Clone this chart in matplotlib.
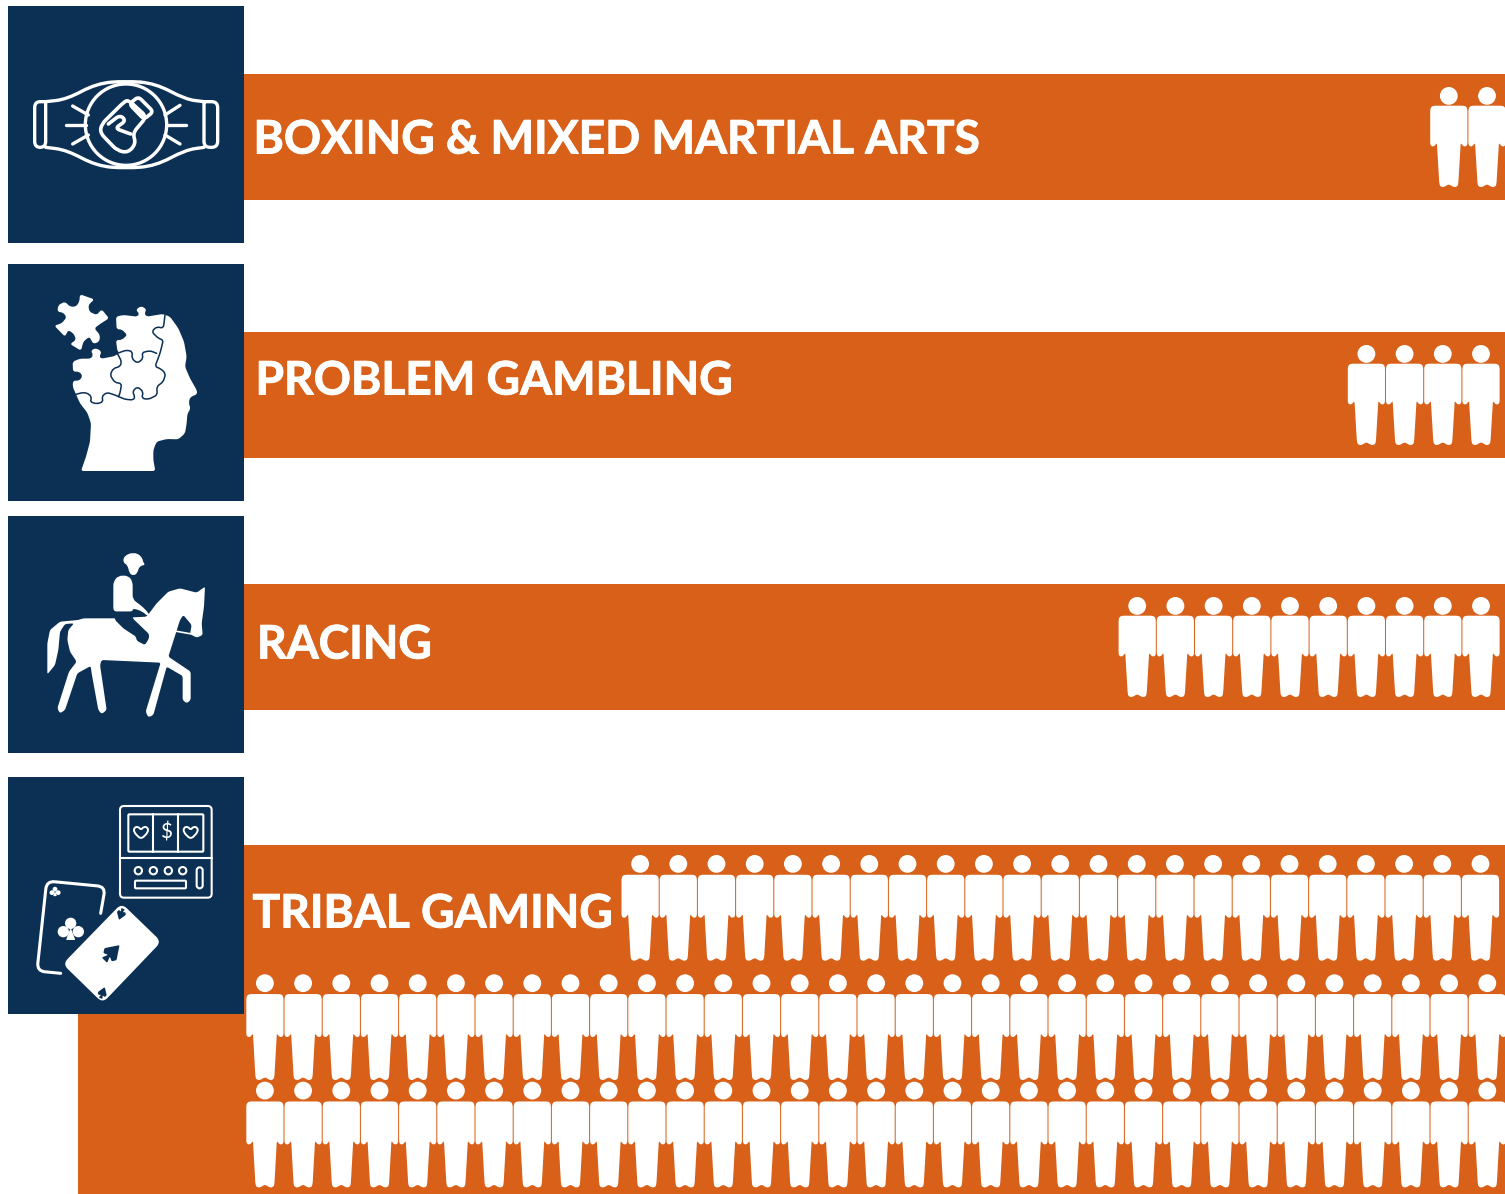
import numpy as np
import matplotlib
matplotlib.use("Agg")
import matplotlib.pyplot as plt
import matplotlib.patheffects as pe
from matplotlib.patches import PathPatch, Rectangle, Circle
from matplotlib.path import Path

ORANGE = "#D86018"
NAVY = "#0B3054"
WHITE = "#FFFFFF"

# chart data
categories = ["BOXING & MIXED MARTIAL ARTS", "PROBLEM GAMBLING", "RACING", "TRIBAL GAMING"]
people_rows = [[2], [4], [10], [23, 33, 33]]

# layout, in pixels of the reference
PITCH = 38.2
icon_tops = [6, 264, 516, 777]
bar_boxes = [(244, 74, 200), (244, 332, 458), (244, 584, 710), (78, 845, 1194)]
label_pos = [(253.5, 140.5), (255.5, 381.5), (257, 645.5), (252.5, 914.5)]
row_layout = [
    [(1487, 87, 100)],
    [(1481, 345, 100)],
    [(1481, 597, 100)],
    [(1480.5, 855, 105.7), (1487.3, 974.3, 105.7), (1487.3, 1081.7, 105.7)],
]

fig = plt.figure(figsize=(15.05, 11.94), dpi=100)
ax = fig.add_axes([0, 0, 1, 1])
ax.set_xlim(0, 1505)
ax.set_ylim(1194, 0)
ax.axis("off")


def round_poly(pts, r=3.0, closed=True):
    # polygon/polyline with quadratic rounded corners
    pts = [np.array(p, dtype=float) for p in pts]
    n = len(pts)
    verts, codes = [], []
    idx = range(n) if closed else range(1, n - 1)
    if not closed:
        verts.append(pts[0])
        codes.append(Path.MOVETO)
    for i in idx:
        p0, p1, p2 = pts[i - 1], pts[i], pts[(i + 1) % n]
        d0 = np.linalg.norm(p0 - p1)
        d2 = np.linalg.norm(p2 - p1)
        a = p1 + (p0 - p1) * min(r, d0 / 2) / max(d0, 1e-6)
        b = p1 + (p2 - p1) * min(r, d2 / 2) / max(d2, 1e-6)
        verts.append(a)
        codes.append(Path.MOVETO if (closed and not verts[:-1]) else Path.LINETO)
        verts += [p1, b]
        codes += [Path.CURVE3, Path.CURVE3]
    if closed:
        verts.append(verts[0])
        codes.append(Path.CLOSEPOLY)
    else:
        verts.append(pts[-1])
        codes.append(Path.LINETO)
    return Path(verts, codes)


def zoomed(pts, oy):
    # icon outlines were traced on 3x crops
    return [(x / 3, oy + y / 3) for x, y in pts]


def fill_shape(pts, oy, r=3.0, color=WHITE, z=5):
    ax.add_patch(PathPatch(round_poly(zoomed(pts, oy), r), fc=color, ec="none", zorder=z))


def stroke_shape(pts, oy, r=3.0, lw=2.4, closed=False, color=WHITE, z=5):
    ax.add_patch(PathPatch(round_poly(zoomed(pts, oy), r, closed), fc="none", ec=color,
                           lw=lw, capstyle="round", joinstyle="round", zorder=z))


def draw_person(cx, top, h):
    scale = h / 100
    s = 18.7 * scale
    a = 57.7 * scale
    r_head = 8.9
    ax.add_patch(Circle((cx, top + r_head), r_head, fc=WHITE, ec="none", zorder=3))
    right = [(14.5, s), (17.5, s + 0.8), (18.6, s + 4), (18.6, a - 1), (18, a + 1), (16, a + 2),
             (14, a + 1), (13, a - 0.6), (11.9, a - 1.4), (9.6, h - 5), (9, h - 1.2), (7, h),
             (5, h), (3, h - 1), (0, h - 2.8)]
    left = [(-x, y) for x, y in reversed(right[:-1])]
    body = [(cx + x, top + y) for x, y in right + left]
    ax.add_patch(PathPatch(round_poly(body, 1.6), fc=WHITE, ec="none", zorder=3))


def belt_icon(oy):
    top = [(137, 305), (200, 298), (290, 250), (378, 243), (466, 250), (556, 298), (612, 305)]
    bot = [(137, 442), (200, 450), (290, 498), (378, 505), (466, 498), (556, 450), (612, 442)]
    stroke_shape(top, oy, r=40)
    stroke_shape(bot, oy, r=40)
    stroke_shape([(137, 305), (104, 305), (104, 442), (137, 442), (137, 305)], oy, r=6)
    stroke_shape([(612, 305), (653, 305), (653, 442), (612, 442), (612, 305)], oy, r=6)
    ax.add_patch(Circle((378 / 3, oy + 374 / 3), 122 / 3, fc=NAVY, ec=WHITE, lw=2.4, zorder=5))
    rays = [[(197, 374), (258, 374)], [(218, 318), (265, 345)], [(218, 432), (265, 405)],
            [(500, 374), (558, 374)], [(540, 316), (495, 345)], [(540, 432), (495, 405)]]
    for ray in rays:
        stroke_shape(ray, oy)
    glove = [(372, 306), (305, 372), (300, 398), (352, 452), (385, 458), (408, 430), (398, 400),
             (440, 350), (385, 300)]
    stroke_shape(glove, oy, r=6, closed=True, lw=2.6)
    stroke_shape([(415, 290), (460, 335), (432, 358), (388, 312)], oy, r=4, closed=True, lw=2.6)
    stroke_shape([(325, 372), (360, 345), (378, 362), (345, 385), (392, 402)], oy, r=5, lw=2.6)


def brain_icon(oy):
    head = [(243, 633), (258, 590), (270, 545), (273, 490), (262, 458), (240, 430), (228, 403),
            (218, 380), (219, 362), (238, 362), (248, 348), (238, 335), (219, 335), (218, 305),
            (240, 296), (272, 296), (280, 285), (272, 272), (288, 264), (305, 275), (298, 290),
            (305, 296), (345, 288), (358, 278), (352, 272), (348, 240), (365, 240), (382, 225),
            (365, 208), (350, 208), (348, 170), (370, 165), (412, 170), (418, 160), (407, 150),
            (423, 138), (440, 148), (433, 160), (440, 170), (488, 162), (510, 170), (535, 205),
            (552, 245), (560, 290), (555, 320), (570, 355), (590, 390), (592, 402), (570, 412),
            (566, 430), (572, 445), (562, 462), (560, 490), (555, 520), (535, 538), (500, 537),
            (470, 545), (460, 570), (460, 600), (466, 633)]
    fill_shape(head, oy, r=2.5)
    loose = [(240, 103), (283, 118), (265, 135), (268, 155), (290, 165), (305, 148), (327, 175),
             (303, 190), (283, 205), (300, 225), (298, 245), (280, 252), (268, 230), (250, 245),
             (243, 272), (210, 252), (228, 240), (222, 222), (205, 210), (195, 230), (163, 197),
             (185, 190), (200, 172), (190, 158), (172, 155), (175, 135), (195, 125), (210, 140),
             (228, 140), (238, 125)]
    fill_shape(loose, oy, r=2.5)
    seam_a = [(228, 403), (250, 397), (268, 402), (275, 415), (270, 425), (290, 432), (310, 425),
              (305, 410), (320, 397), (345, 405), (375, 418), (400, 420), (405, 410), (397, 395),
              (412, 380), (430, 395), (425, 415), (445, 418), (472, 405), (470, 380), (490, 365),
              (497, 340), (480, 325), (465, 320), (480, 280), (490, 240), (475, 235), (455, 215),
              (470, 200), (490, 205), (495, 165)]
    seam_b = [(352, 280), (365, 305), (360, 320), (340, 325), (330, 345), (345, 368), (365, 370),
              (360, 400), (355, 410)]
    seam_c = [(352, 280), (380, 270), (398, 275), (395, 295), (412, 310), (430, 295), (425, 278),
              (450, 272), (470, 280)]
    for seam in (seam_a, seam_b, seam_c):
        stroke_shape(seam, oy, r=3, lw=1.1, color=NAVY, z=6)


def horse_icon(oy):
    horse = [(142, 493), (142, 400), (150, 360), (180, 335), (235, 330), (250, 325), (340, 325),
             (440, 320), (470, 280), (505, 245), (540, 235), (590, 248), (615, 230), (612, 290),
             (605, 340), (608, 375), (590, 383), (570, 372), (575, 345), (550, 315), (540, 330),
             (505, 440), (572, 485), (572, 570), (560, 580), (548, 570), (548, 498), (500, 470),
             (460, 615), (445, 622), (437, 605), (482, 458), (305, 450), (300, 465), (320, 600),
             (305, 612), (295, 600), (275, 490), (272, 468), (232, 490), (195, 600), (180, 610),
             (172, 595), (207, 485), (230, 455), (210, 425), (202, 390), (205, 360), (222, 340),
             (195, 342), (180, 365), (175, 420), (165, 465)]
    fill_shape(horse, oy, r=2.0)
    stroke_shape([(530, 364), (575, 372)], oy, lw=1.2)
    torso = [(340, 305), (340, 215), (355, 197), (385, 197), (398, 215), (398, 268), (430, 292),
             (450, 315), (445, 320), (425, 303), (398, 295), (398, 305)]
    fill_shape(torso, oy, r=4)
    thigh = [(342, 305), (398, 305), (398, 325), (447, 372), (447, 385), (435, 405), (410, 392),
             (408, 380), (370, 355), (345, 330)]
    fill_shape(thigh, oy, r=2, color=NAVY, z=6)
    helmet = [(369, 158), (372, 138), (400, 126), (425, 138), (430, 158), (436, 165), (418, 168),
              (412, 190), (400, 197), (388, 190), (383, 165)]
    fill_shape(helmet, oy, r=5)


def heart(cx, cy, oy):
    pts = [(0, 20), (-22, -2), (-20, -16), (-8, -18), (0, -8), (8, -18), (20, -16), (22, -2)]
    stroke_shape([(cx + x, cy + y) for x, y in pts], oy, r=4, lw=1.4, closed=True)


def club(cx, cy, k, oy):
    for dx, dy in [(0, -18), (-22, 7), (23, 7)]:
        ax.add_patch(Circle(((cx + dx * k) / 3, oy + (cy + dy * k) / 3), 17 * k / 3,
                            fc=WHITE, ec="none", zorder=5))
    fill_shape([(cx, cy - 5 * k), (cx + 14 * k, cy + 32 * k), (cx - 14 * k, cy + 32 * k)], oy, r=1)


def spade(cx, cy, k, angle, oy):
    pts = np.array([(0, -1), (0.8, 0.2), (0.55, 0.6), (0.12, 0.4), (0.35, 1), (-0.35, 1),
                    (-0.12, 0.4), (-0.55, 0.6), (-0.8, 0.2)])
    t = np.radians(angle)
    rot = np.array([[np.cos(t), -np.sin(t)], [np.sin(t), np.cos(t)]])
    pts = pts @ rot.T * k + (cx, cy)
    fill_shape(pts.tolist(), oy, r=1.2, color=NAVY, z=7)


def cards_icon(oy):
    stroke_shape([(360, 108), (635, 108), (635, 383), (360, 383)], oy, r=4, lw=1.5, closed=True)
    stroke_shape([(360, 265), (635, 265)], oy, lw=1.5)
    stroke_shape([(385, 133), (610, 133), (610, 245), (385, 245)], oy, r=1, lw=1.5, closed=True)
    stroke_shape([(460, 133), (460, 245)], oy, lw=1.5)
    stroke_shape([(535, 133), (535, 245)], oy, lw=1.5)
    heart(423, 188, oy)
    heart(572, 188, oy)
    ax.text(497 / 3, oy + 188 / 3, "$", color=WHITE, fontsize=15, ha="center", va="center",
            family="Lato", zorder=5)
    for x in (415, 460, 505, 548):
        ax.add_patch(Circle((x / 3, oy + 302 / 3), 11 / 3, fc="none", ec=WHITE, lw=1.5, zorder=5))
    stroke_shape([(405, 332), (558, 332), (558, 355), (405, 355)], oy, r=1, lw=1.5, closed=True)
    stroke_shape([(590, 292), (608, 292), (608, 355), (590, 355)], oy, r=3, lw=1.5, closed=True)
    stroke_shape([(302, 430), (316, 350), (140, 333), (111, 603), (182, 610)], oy, r=8, lw=2.2)
    club(212, 478, 1.0, oy)
    club(165, 365, 0.42, oy)
    fill_shape([(365, 400), (484, 515), (308, 699), (188, 582)], oy, r=7)
    spade(336, 548, 32, 45, oy)
    spade(363, 433, 18, 200, oy)
    spade(308, 668, 18, 20, oy)


for (x0, y0, y1) in bar_boxes:
    ax.add_patch(Rectangle((x0, y0), 1505 - x0, y1 - y0, fc=ORANGE, ec="none", zorder=1))

for top in icon_tops:
    ax.add_patch(Rectangle((8, top), 236, 237, fc=NAVY, ec="none", zorder=2))

for name, (x, y) in zip(categories, label_pos):
    ax.text(x, y, name, color=WHITE, fontsize=33.2, fontweight="bold", family="Lato",
            ha="left", va="center", zorder=4,
            path_effects=[pe.withStroke(linewidth=0.7, foreground=WHITE)])

for counts, rows in zip(people_rows, row_layout):
    for count, (last_x, top, h) in zip(counts, rows):
        for i in range(count):
            draw_person(last_x - i * PITCH, top, h)

belt_icon(0)
brain_icon(260)
horse_icon(510)
cards_icon(770)

fig.savefig("out.png", dpi=100, facecolor="white")
